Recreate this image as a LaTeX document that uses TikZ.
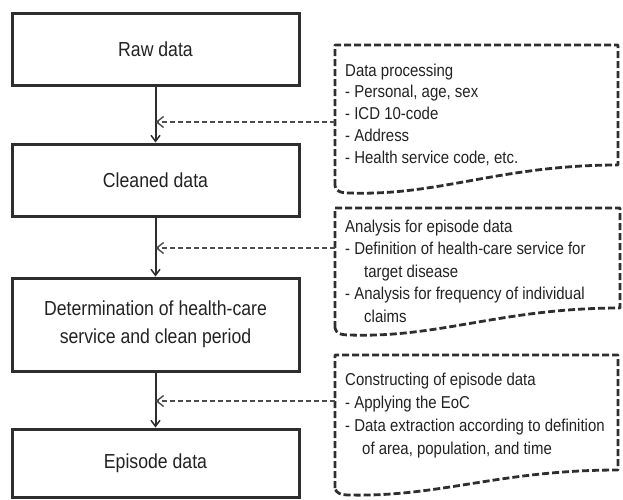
\documentclass[tikz,border=0pt]{standalone}
\usepackage{fontspec}
\setmainfont[FakeStretch=0.87]{Liberation Sans}
\usetikzlibrary{arrows.meta}
\definecolor{ink}{HTML}{2E2E2E}
\definecolor{txt}{HTML}{222222}
\tikzset{
  stepbox/.style={draw=ink, line width=3pt, inner sep=0pt, text=txt,
    font=\fontsize{20.3}{28}\selectfont, align=center},
  flow/.style={draw=ink, line width=2pt, -{Straight Barb[length=6pt,width=9pt,line width=1.5pt]}},
  docshape/.style={draw=ink, line width=2.8pt, dash pattern=on 7pt off 3pt, line join=round},
  feed/.style={draw=ink!85, line width=1.8pt, dash pattern=on 5.5pt off 2.5pt,
    -{Straight Barb[length=7pt,width=11pt,line width=1.4pt]}},
  sidetext/.style={inner sep=0pt, text=txt, align=left, anchor=north west},
}
\begin{document}
\begin{tikzpicture}[x=1pt,y=-1pt]
\useasboundingbox (0,0) rectangle (623,499);
% main boxes
\node[stepbox, minimum width=287pt, minimum height=72pt] (b1) at (155.5,49) {Raw data};
\node[stepbox, minimum width=287pt, minimum height=72pt] (b2) at (155.5,180) {Cleaned data};
\node[stepbox, minimum width=287pt, minimum height=93pt] (b3) at (155.5,324.5) {Determination of health-care\\service and clean period};
\node[stepbox, minimum width=287pt, minimum height=68pt] (b4) at (155.5,463) {Episode data};
% vertical arrows
\draw[flow] (b1.south) -- (b2.north);
\draw[flow] (b2.south) -- (b3.north);
\draw[flow] (b3.south) -- (b4.north);
% document shapes
\draw[docshape] (335,186) -- (335,45) -- (618,45) -- (618,165)
  .. controls (500,165) and (440,196) .. (350,193)
  .. controls (340,193) and (336,191) .. cycle;
\draw[docshape] (335,328) -- (335,208) -- (620,208) -- (620,308)
  .. controls (502,308) and (440,338) .. (350,335)
  .. controls (340,335) and (336,333) .. cycle;
\draw[docshape] (335,488) -- (335,355) -- (618,355) -- (618,470)
  .. controls (500,470) and (440,497) .. (350,495)
  .. controls (340,495) and (336,493) .. cycle;
% texts
\node[sidetext, font=\fontsize{17.2}{21.8}\selectfont] (t1) at (345,63.5)
  {Data processing\\- Personal, age, sex\\- ICD 10-code\\- Address\\- Health service code, etc.};
\node[sidetext, font=\fontsize{17.2}{22.5}\selectfont] (t2) at (345,219.5)
  {Analysis for episode data\\- Definition of health-care service for\\\hspace*{19pt}target disease\\- Analysis for frequency of individual\\\hspace*{19pt}claims};
\node[sidetext, font=\fontsize{17.2}{23}\selectfont] (t3) at (345,372.5)
  {Constructing of episode data\\- Applying the EoC\\- Data extraction according to definition\\\hspace*{17pt}of area, population, and time};
% feed arrows
\coordinate (f1) at (335,122);
\coordinate (f2) at (335,248);
\coordinate (f3) at (335,401);
\draw[feed] (f1) -- (f1 -| b1.south);
\draw[feed] (f2) -- (f2 -| b2.south);
\draw[feed] (f3) -- (f3 -| b3.south);
\end{tikzpicture}
\end{document}
